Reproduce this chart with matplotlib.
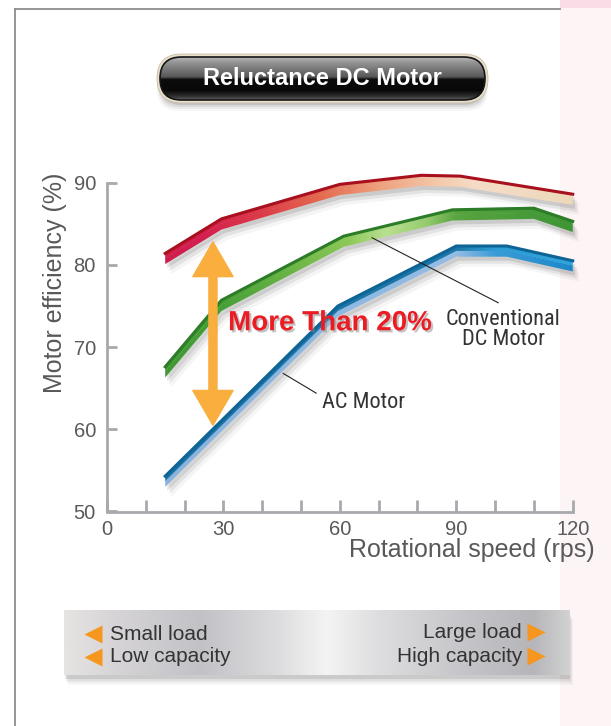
import numpy as np
import matplotlib
matplotlib.use("Agg")
import matplotlib.pyplot as plt
from matplotlib.patches import Polygon, FancyBboxPatch, Rectangle, FancyArrowPatch
from matplotlib.colors import LinearSegmentedColormap
from matplotlib.lines import Line2D
from matplotlib import transforms, font_manager
import matplotlib.patheffects as pe

# values (speed in rps, efficiency in %)
speed_reluctance = [15, 29.5, 60, 81, 91, 120]
eff_reluctance = [80.8, 85.0, 89.2, 90.3, 90.2, 88.0]
speed_conventional = [15, 29.5, 61, 89, 110, 120]
eff_conventional = [67.0, 75.1, 82.9, 86.1, 86.3, 84.7]
speed_ac = [15, 59.5, 90, 103, 120]
eff_ac = [53.7, 74.4, 81.7, 81.7, 79.9]

x_ticks = [0, 30, 60, 90, 120]
x_minor = [10, 20, 40, 50, 70, 80, 100, 110]
y_ticks = [50, 60, 70, 80, 90]

gap_speed = 27.3
gap_range = [60.5, 82.8]
gap_text = "More Than 20%"

title = "Reluctance DC Motor"
x_label = "Rotational speed (rps)"
y_label = "Motor efficiency (%)"
left_notes = ["Small load", "Low capacity"]
right_notes = ["Large load", "High capacity"]

plt.rcParams["font.family"] = ["Liberation Sans", "DejaVu Sans"]


def condensed_family():
    names = {f.name for f in font_manager.fontManager.ttflist}
    for cand in ["Liberation Sans Narrow", "DejaVu Sans Condensed", "Roboto Condensed",
                 "Open Sans Condensed", "Noto Sans Condensed"]:
        if cand in names:
            return cand
    return None


narrow = condensed_family()
if narrow:
    note_font = dict(family=[narrow, "DejaVu Sans"], fontsize=16)
else:
    note_font = dict(fontsize=14.5)

W, H = 611, 726
fig = plt.figure(figsize=(W / 100, H / 100), dpi=100)
fig.patch.set_facecolor("white")

# pink strip and frame
fig.add_artist(Rectangle((560 / W, 0), 51 / W, 1, transform=fig.transFigure,
                         fc="#fcf4f5", ec="none", zorder=-2))
fig.add_artist(Rectangle((560 / W, 1 - 8 / H), 51 / W, 8 / H, transform=fig.transFigure,
                         fc="#f9dde6", ec="none", zorder=-2))
fig.add_artist(Line2D([15 / W, 560 / W], [1 - 9 / H, 1 - 9 / H], transform=fig.transFigure,
                      color="#8c8c8c", lw=1.3))
fig.add_artist(Line2D([15 / W, 15 / W], [0, 1 - 9 / H], transform=fig.transFigure,
                      color="#8c8c8c", lw=1.3))


def px_axes(x0, y0, x1, y1):
    a = fig.add_axes([x0 / W, 1 - y1 / H, (x1 - x0) / W, (y1 - y0) / H])
    a.set_xlim(x0, x1)
    a.set_ylim(y1, y0)
    a.axis("off")
    return a


# main chart
XPX, YPX = 3.881, 8.22
ax = fig.add_axes([107 / W, 1 - 511.5 / H, 122 * XPX / W, 42 * YPX / H])
ax.set_facecolor("none")
ax.set_xlim(0, 122)
ax.set_ylim(50, 92)
for s in ["top", "right"]:
    ax.spines[s].set_visible(False)
for s in ["left", "bottom"]:
    ax.spines[s].set_color("#a7a9ac")
    ax.spines[s].set_linewidth(2)
ax.spines["left"].set_bounds(50, 90)
ax.spines["bottom"].set_bounds(0, 120)
ax.set_xticks(x_ticks)
ax.set_xticks(x_minor, minor=True)
ax.set_yticks(y_ticks)
ax.tick_params(axis="y", direction="in", length=7, width=2, color="#a7a9ac",
               labelsize=14.5, labelcolor="#58595b", pad=8)
ax.tick_params(axis="x", which="both", direction="in", length=8.5, width=2, color="#a7a9ac",
               labelsize=14.5, labelcolor="#58595b", pad=6)
ax.set_xlabel(x_label, fontsize=18, color="#58595b", ha="right", va="center")
ax.xaxis.set_label_coords((595 - 107) / (122 * XPX), -(550 - 511.5) / (42 * YPX))
ax.set_ylabel(y_label, fontsize=18, color="#58595b", va="center")
ax.yaxis.set_label_coords((55 - 107) / (122 * XPX), (511.5 - 283) / (42 * YPX))


def draw_band(xs, ys, stops_lo, stops_hi, edge, h=0.7):
    xs = np.asarray(xs, float)
    ys = np.asarray(ys, float)
    outline = np.column_stack([np.r_[xs, xs[::-1]], np.r_[ys + h, (ys - h)[::-1]]])
    for dx, dy, a in [(2, -4, 0.10), (4, -7, 0.07), (6, -10, 0.04)]:
        tr = transforms.offset_copy(ax.transData, fig=fig, x=dx, y=dy, units="dots")
        ax.add_patch(Polygon(outline, closed=True, transform=tr, fc="black", ec="none",
                             alpha=a, zorder=1))
    grad = np.linspace(0, 1, 512)[None, :]
    for lo, hi, stops in [(ys - h, ys + 0.05, stops_lo), (ys, ys + h, stops_hi)]:
        verts = np.column_stack([np.r_[xs, xs[::-1]], np.r_[hi, lo[::-1]]])
        poly = Polygon(verts, closed=True, fc="none", ec="none")
        ax.add_patch(poly)
        cmap = LinearSegmentedColormap.from_list("band", [(x / 122, c) for x, c in stops])
        im = ax.imshow(grad, cmap=cmap, extent=[0, 122, 50, 92], aspect="auto",
                       origin="lower", zorder=2, interpolation="bilinear")
        im.set_clip_path(poly)
    ax.plot(xs, ys + h - 0.1, color=edge, lw=2.2, zorder=3, solid_joinstyle="miter")


red_stops = [(0, "#c81848"), (25, "#d42050"), (40, "#dc3c48"), (55, "#e46a50"),
             (70, "#eea07e"), (85, "#f4c8a8"), (95, "#f6dcc8"), (122, "#ecd8b8")]
green_stops = [(0, "#3a9030"), (30, "#48a038"), (50, "#70b848"), (62, "#8cc858"),
               (72, "#b8e090"), (82, "#98cc70"), (90, "#58a440"), (122, "#3c9434")]
blue_lo = [(0, "#86b2de"), (90, "#94bce4"), (100, "#3c9cd8"), (122, "#1a86c8")]
blue_hi = [(0, "#1a70a2"), (90, "#1c78aa"), (100, "#2c9cd4"), (122, "#30a6dc")]

draw_band(speed_ac, eff_ac, blue_lo, blue_hi, "#0e6494")
draw_band(speed_conventional, eff_conventional, green_stops, green_stops, "#2c7c28")
draw_band(speed_reluctance, eff_reluctance, red_stops, red_stops, "#a8101e")

# double arrow showing the gap
mid = sum(gap_range) / 2
for end in gap_range:
    ax.add_patch(FancyArrowPatch((gap_speed, mid), (gap_speed, end),
                                 arrowstyle="simple,head_length=2.5,head_width=2.9,tail_width=0.58",
                                 mutation_scale=10, color="#f9ae3e", shrinkA=0, shrinkB=0,
                                 zorder=4))
ax.text(31.2, 72.9, gap_text, fontsize=20, fontweight="bold", color="#ec1c24",
        ha="left", va="center", zorder=5,
        path_effects=[pe.SimplePatchShadow(offset=(1.5, -1.5), shadow_rgbFace="#888888", alpha=0.5),
                      pe.Normal()])

# callouts
ax.plot([68.3, 100.8], [83.3, 75.4], color="#222222", lw=0.8, zorder=4)
ax.text(102.1, 72.1, "Conventional\nDC Motor", ha="center", va="center",
        color="#333333", linespacing=0.95, zorder=5, **note_font)
ax.plot([45.4, 53.9], [66.8, 64.4], color="#222222", lw=0.8, zorder=4)
ax.text(66.2, 63.3, "AC Motor", ha="center", va="center", color="#333333", zorder=5,
        **note_font)

# title pill
tx = px_axes(140, 45, 505, 122)
for k, a in enumerate([0.10, 0.07, 0.05, 0.03]):
    tx.add_patch(FancyBboxPatch((160 - k, 62 + k * 2), 325 + 2 * k, 43,
                                boxstyle="round,pad=0,rounding_size=21.5",
                                fc="black", ec="none", alpha=a))
tx.add_patch(FancyBboxPatch((157, 54), 331, 49, boxstyle="round,pad=0,rounding_size=24.5",
                            fc="#e8e0cc", ec="#c8bea8", lw=0.6))
pill = FancyBboxPatch((160, 57), 325, 43, boxstyle="round,pad=0,rounding_size=21.5",
                      fc="none", ec="#151515", lw=1.2, zorder=3)
tx.add_patch(pill)
pill_cmap = LinearSegmentedColormap.from_list("pill", [
    (0, "#b8b8b8"), (0.12, "#959595"), (0.46, "#585858"), (0.52, "#0c0c0c"),
    (0.78, "#080808"), (0.92, "#303030"), (1, "#646464")])
im = tx.imshow(np.linspace(0, 1, 200)[:, None], cmap=pill_cmap, extent=[160, 485, 100, 57],
               origin="upper", aspect="auto", zorder=2)
im.set_clip_path(pill)
tx.text(322.5, 78.5, title, color="white", fontsize=17, fontweight="bold",
        ha="center", va="center", zorder=4)

# load / capacity bar
bx = px_axes(50, 600, 595, 700)
for k, a in enumerate([0.09, 0.06, 0.04, 0.03]):
    bx.add_patch(Rectangle((65 + k, 614 + k * 2), 505, 65, fc="black", ec="none", alpha=a))
bar = Rectangle((64, 610), 506, 65, fc="none", ec="none", zorder=2)
bx.add_patch(bar)
bar_cmap = LinearSegmentedColormap.from_list("bar", [
    (0, "#e6e4e2"), (0.1, "#d6d4d6"), (0.27, "#c2c1c6"), (0.42, "#dcdcde"),
    (0.52, "#f4f4f4"), (0.62, "#dedee0"), (0.8, "#c4c3c7"), (0.93, "#b6b5b9"), (1, "#d2d2d2")])
im = bx.imshow(np.linspace(0, 1, 256)[None, :], cmap=bar_cmap, extent=[64, 570, 675, 610],
               origin="upper", aspect="auto", zorder=2)
im.set_clip_path(bar)
for yy, txt in zip([634, 657], left_notes):
    bx.plot(93, yy, marker="<", ms=13, color="#f5961f", mec="none", zorder=3)
    bx.text(110, yy, txt, fontsize=15, color="#333333", ha="left", va="center", zorder=3)
for yy, txt in zip([632, 656], right_notes):
    bx.plot(536, yy, marker=">", ms=13, color="#f5961f", mec="none", zorder=3)
    bx.text(522, yy, txt, fontsize=15, color="#333333", ha="right", va="center", zorder=3)

fig.savefig("out.png", dpi=100, facecolor="white")
